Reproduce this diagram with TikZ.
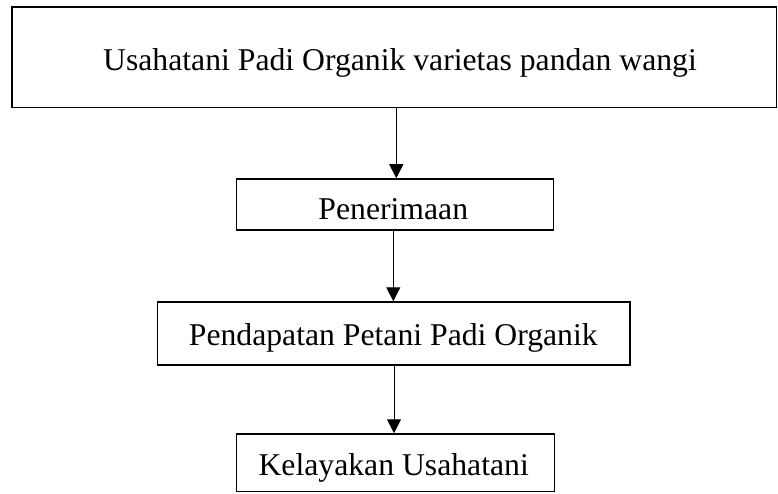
\documentclass[tikz,border=0pt]{standalone}
\usepackage{fontspec}
\setmainfont{Liberation Serif}
\usetikzlibrary{arrows.meta}
\begin{document}
\begin{tikzpicture}[x=1pt,y=-1pt,
  box/.style={draw=black, line width=1.5pt, inner sep=0pt, fill=white},
  lbl/.style={anchor=base, inner sep=0pt, font=\fontsize{31.7pt}{36pt}\selectfont},
  arr/.style={draw=black, line width=1pt, -{Triangle[length=14pt,width=14pt]}}]
\useasboundingbox (0,0) rectangle (778,494);
\fill[white] (0,0) rectangle (778,494);
% boxes
\node[box, minimum width=764.5pt, minimum height=100.5pt] (top) at (394.25,57.5) {};
\node[box, minimum width=316.6pt, minimum height=51pt] (pen) at (395,204.5) {};
\node[box, minimum width=472.7pt, minimum height=63pt] (pdp) at (393.7,333.5) {};
\node[box, minimum width=317.6pt, minimum height=57.7pt] (kel) at (395.5,462.85) {};
% texts
\node[lbl] (topt) at (400,70.7) {Usahatani Padi Organik varietas pandan wangi};
\node[lbl] (pent) at (393.3,220) {Penerimaan};
\node[lbl] (pdpt) at (393.3,345) {Pendapatan Petani Padi Organik};
\node[lbl] (kelt) at (393.7,475) {Kelayakan Usahatani};
% connectors
\draw[arr] (top.south -| 396.3,0) -- (pen.north -| 396.3,0);
\draw[arr] (pen.south -| 393.3,0) -- (pdp.north -| 393.3,0);
\draw[arr] (pdp.south -| 394,0) -- (kel.north -| 394,0);
\end{tikzpicture}
\end{document}
